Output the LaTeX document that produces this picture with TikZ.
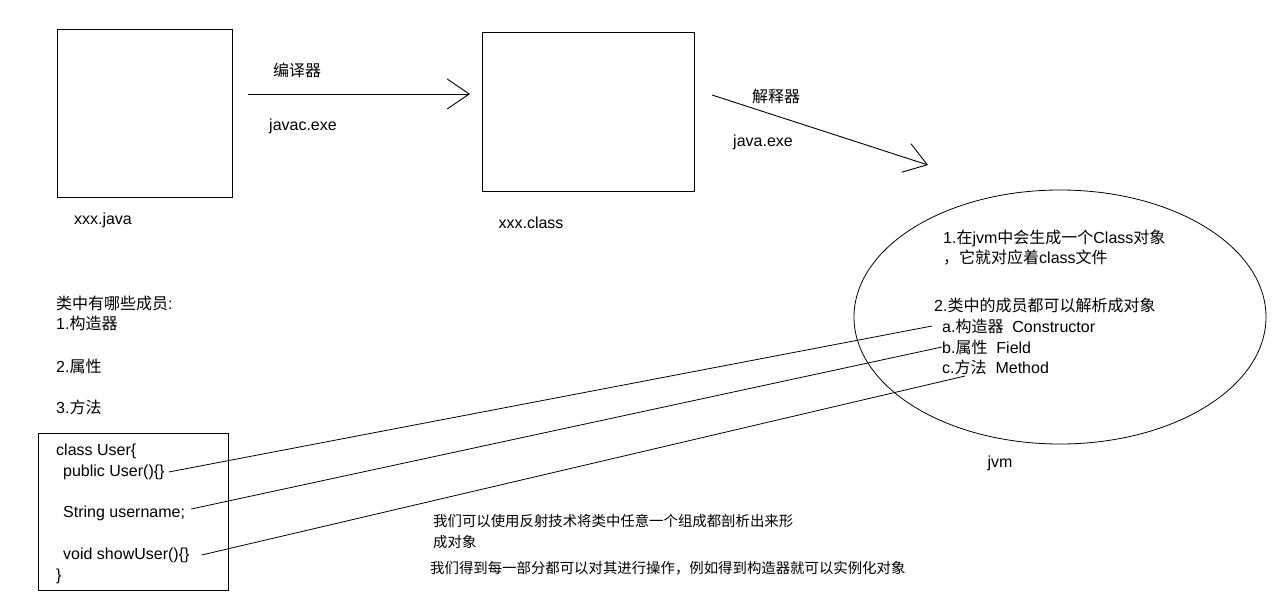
\documentclass[tikz,border=0pt]{standalone}
\usepackage{fontspec}
\setmainfont{Liberation Sans}
\newfontfamily\cjk{Noto Sans CJK SC}
\usetikzlibrary{arrows.meta,shapes.geometric}

\begin{document}
\begin{tikzpicture}[x=1pt,y=-1pt,
  font=\fontsize{16}{19}\selectfont,
  filebox/.style={shape=rectangle,draw,line width=1pt},
  txt/.style={anchor=west,inner sep=0pt},
  lbl/.style={inner sep=0pt},
  flow/.style={line width=0.9pt,-{Straight Barb[length=22pt,width=30pt]}},
  link/.style={line width=0.8pt}]
\useasboundingbox (0,0) rectangle (1274,597);

% source file -> compiler -> class file
\node[filebox,minimum width=175,minimum height=168] (javabox) at (144.5,113) {};
\node[filebox,minimum width=212,minimum height=159] (classbox) at (588,111.5) {};
\node[lbl] (javaname) at (103,220) {xxx.java};
\node[lbl] (classname) at (531,223) {xxx.class};

\coordinate (compS) at (248,94);
\coordinate (compE) at (470,94);
\draw[flow] (compS) -- (compE);
\node[lbl] (compiler) at (297,70) {\cjk 编译器};
\node[lbl] (javac) at (303,126) {javac.exe};

\coordinate (runS) at (712,95);
\coordinate (runE) at (928,165);
\draw[flow] (runS) -- (runE);
\node[lbl] (interp) at (776,96) {\cjk 解释器};
\node[lbl] (javaexe) at (763,142) {java.exe};

% the jvm
\node[ellipse,draw,line width=0.8pt,minimum width=412,minimum height=254] (jvm) at (1060,317) {};
\node[lbl] (jvmname) at (1000,463) {jvm};
\node[txt] (fact1) at (943,238) {1.{\cjk 在}jvm{\cjk 中会生成一个}Class{\cjk 对象}};
\node[txt] (fact1b) at (943,258) {{\cjk ，它就对应着}class{\cjk 文件}};
\node[txt] (fact2) at (934,305) {2.{\cjk 类中的成员都可以解析成对象}};
\node[txt] (itema) at (942,326) {a.{\cjk 构造器}\ \ Constructor};
\node[txt] (itemb) at (942,347) {b.{\cjk 属性}\ \ Field};
\node[txt] (itemc) at (942,367) {c.{\cjk 方法}\ \ Method};

% members of a class
\node[txt] (members) at (56,303) {{\cjk 类中有哪些成员}:};
\node[txt] (m1) at (56,323) {1.{\cjk 构造器}};
\node[txt] (m2) at (56,366) {2.{\cjk 属性}};
\node[txt] (m3) at (56,407) {3.{\cjk 方法}};

\node[filebox,minimum width=190,minimum height=157] (codebox) at (133,511.5) {};
\node[txt] (cl0) at (56,451) {class User\{};
\node[txt] (ctor) at (63,472) {public User()\{\}};
\node[txt] (field) at (63,513) {String username;};
\node[txt] (method) at (63,555) {void showUser()\{\}};
\node[txt] (cl4) at (56,576) {\}};

\draw[link] ([xshift=4pt]ctor.east) -- ([xshift=-10pt]itema.west);
\draw[link] ([xshift=6pt,yshift=4pt]field.east) -- (itemb.west);
\draw[link] ([xshift=12pt]method.east) -- ([xshift=23pt,yshift=-9pt]itemc.west);

\node[txt,font=\fontsize{14.4}{17}\selectfont] (note1) at (433,521) {\cjk 我们可以使用反射技术将类中任意一个组成都剖析出来形};
\node[txt,font=\fontsize{14.4}{17}\selectfont] (note1b) at (433,542) {\cjk 成对象};
\node[txt,font=\fontsize{14.4}{17}\selectfont] (note2) at (430,568) {\cjk 我们得到每一部分都可以对其进行操作，例如得到构造器就可以实例化对象};
\end{tikzpicture}
\end{document}
